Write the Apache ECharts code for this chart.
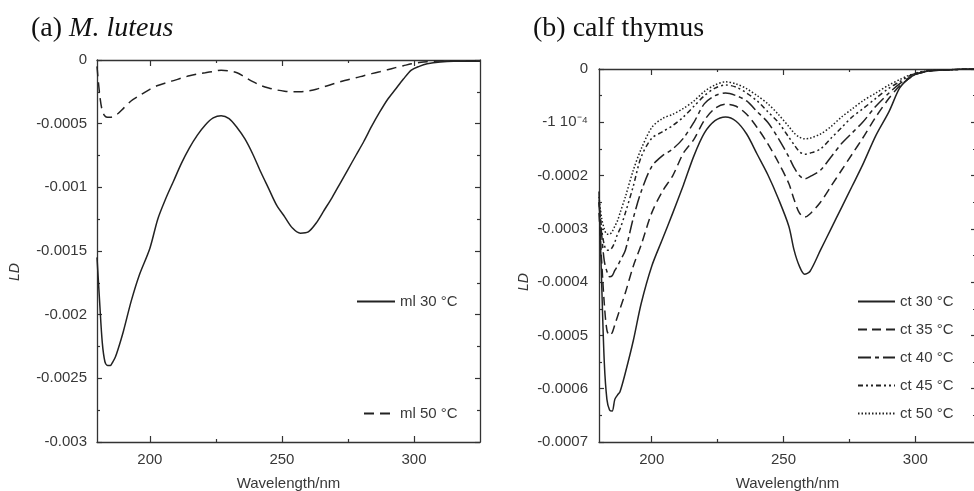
<!DOCTYPE html>
<html>
<head>
<meta charset="utf-8">
<script src="https://cdn.jsdelivr.net/npm/echarts@6/dist/echarts.min.js"></script>
<style>html,body{margin:0;padding:0;background:#fff}#c{width:974px;height:491px}</style>
</head>
<body>
<div id="c"></div>
<script>
// ---- data ----
const titleA = ['(a) ', 'M. luteus'];
const titleB = '(b) calf thymus';
const xName = 'Wavelength/nm';
const yName = 'LD';
const xLabelValues = [200, 250, 300];
const xMinorValues = [225, 275];
const yLabelsA = ['0', '-0.0005', '-0.001', '-0.0015', '-0.002', '-0.0025', '-0.003'];
const yLabelsB = ['0', '-1 10\u207B\u2074', '-0.0002', '-0.0003', '-0.0004', '-0.0005', '-0.0006', '-0.0007'];
const namesA = ['ml 30 \u00B0C', 'ml 50 \u00B0C'];
const namesB = ['ct 30 \u00B0C', 'ct 35 \u00B0C', 'ct 40 \u00B0C', 'ct 45 \u00B0C', 'ct 50 \u00B0C'];

const wlA = [180,181,182,183,184,185,186,187,188,190,193,196,200,203,206,209,212,215,218,221,224,227,230,233,236,239,242,245,248,251,254,257,260,263,266,269,272,275,278,281,284,287,290,293,296,299,302,305,310,315,320,325];
const ml30 = [-0.00155,-0.00190,-0.00222,-0.00237,-0.00240,-0.00240,-0.00237,-0.00233,-0.00227,-0.00213,-0.00189,-0.00169,-0.00148,-0.00125,-0.00109,-0.00095,-0.00081,-0.00069,-0.00059,-0.00051,-0.000455,-0.000437,-0.00046,-0.00053,-0.00062,-0.00074,-0.00088,-0.00101,-0.00114,-0.00123,-0.00132,-0.00136,-0.00135,-0.00128,-0.00118,-0.00108,-0.00097,-0.00086,-0.00075,-0.00064,-0.00052,-0.00041,-0.00031,-0.00023,-0.00015,-0.00008,-0.00005,-0.00003,-0.000015,-0.00001,-0.00001,-0.00001];
const ml50 = [-0.00005,-0.00027,-0.00040,-0.00044,-0.00045,-0.00045,-0.000445,-0.00043,-0.00042,-0.00038,-0.00032,-0.00028,-0.00023,-0.00020,-0.00018,-0.000162,-0.000142,-0.000124,-0.00011,-0.0001,-0.00009,-0.00008,-0.000085,-0.0001,-0.000135,-0.00017,-0.0002,-0.00022,-0.000235,-0.000245,-0.00025,-0.00025,-0.000242,-0.00023,-0.00021,-0.00019,-0.000172,-0.000155,-0.00014,-0.000123,-0.000107,-0.000092,-0.000076,-0.00006,-0.000045,-0.00003,-0.00002,-0.000013,-0.000008,-0.000005,-0.000005,-0.000005];

const wlB = [180,181,182,183,184,185,186,187,188,190,193,196,200,204,208,212,216,220,224,228,232,236,240,244,248,252,254,256,258,260,264,268,272,276,280,285,290,294,297,300,305,310,315,320,325];
const ct30 = [-0.00023,-0.0004,-0.00055,-0.00062,-0.00064,-0.000642,-0.00062,-0.000612,-0.000605,-0.00057,-0.00051,-0.00044,-0.00037,-0.00032,-0.00027,-0.000218,-0.000163,-0.00012,-0.000097,-0.00009,-0.000098,-0.000122,-0.00016,-0.000198,-0.000243,-0.000295,-0.00034,-0.00037,-0.000385,-0.00038,-0.00034,-0.0003,-0.00026,-0.00022,-0.00018,-0.000125,-0.00008,-0.000036,-0.00002,-0.00001,-0.000004,-0.000002,-0.000001,0,0];
const ct35 = [-0.00027,-0.00036,-0.00044,-0.00049,-0.0005,-0.000495,-0.00048,-0.000465,-0.00045,-0.00042,-0.00037,-0.00033,-0.00027,-0.00023,-0.0002,-0.000158,-0.000132,-0.000096,-0.000074,-0.000066,-0.00007,-0.000085,-0.00011,-0.00014,-0.000175,-0.000215,-0.000245,-0.00027,-0.000278,-0.000272,-0.00025,-0.00022,-0.00019,-0.00016,-0.00013,-0.00009,-0.000055,-0.000032,-0.00002,-0.00001,-0.000004,-0.000002,-0.000001,0,0];
const ct40 = [-0.00025,-0.00031,-0.00036,-0.00038,-0.00039,-0.000388,-0.000378,-0.00037,-0.00036,-0.00034,-0.00028,-0.00023,-0.000183,-0.000163,-0.00015,-0.00013,-0.0001,-0.000065,-0.00005,-0.000045,-0.00005,-0.00006,-0.00008,-0.0001,-0.00013,-0.000165,-0.000185,-0.0002,-0.000206,-0.000202,-0.00019,-0.000165,-0.00014,-0.00012,-0.0001,-0.00007,-0.000045,-0.000028,-0.000018,-0.00001,-0.000004,-0.000002,-0.000001,0,0];
const ct45 = [-0.00025,-0.0003,-0.00033,-0.00034,-0.00034,-0.000335,-0.000325,-0.00031,-0.0003,-0.00027,-0.00022,-0.000165,-0.00013,-0.000118,-0.000106,-0.00009,-0.00007,-0.00005,-0.000036,-0.00003,-0.000034,-0.000045,-0.00006,-0.00008,-0.0001,-0.000128,-0.000142,-0.000155,-0.00016,-0.000158,-0.00015,-0.00013,-0.00011,-0.00009,-0.000075,-0.000055,-0.000036,-0.000024,-0.000015,-0.000008,-0.000003,-0.000002,-0.000001,0,0];
const ct50 = [-0.00024,-0.00028,-0.0003,-0.00031,-0.00031,-0.000305,-0.000295,-0.000285,-0.00027,-0.00024,-0.00019,-0.00015,-0.00011,-0.000093,-0.000085,-0.000074,-0.00006,-0.000042,-0.00003,-0.000024,-0.000028,-0.000037,-0.00005,-0.000065,-0.000085,-0.000108,-0.00012,-0.000128,-0.000131,-0.00013,-0.000122,-0.000108,-0.00009,-0.000075,-0.00006,-0.000045,-0.00003,-0.00002,-0.000013,-0.000008,-0.000003,-0.000002,-0.000001,0,0];

// ---- chart ----
const FONT = 'Liberation Sans, Arial, sans-serif';
const SERIF = 'Liberation Serif, Times New Roman, serif';
const FS = 15;
const INK = '#222';
const AX = '#333';
const TXT = '#383838';
const pair = (xs, ys) => xs.map((x, i) => [x, ys[i]]);

function xAxes(gridIndex, max) {
  const base = {type: 'value', gridIndex, min: 180, max, splitLine: {show: false}};
  return [
    Object.assign({}, base, {position: 'bottom',
      axisLine: {show: true, onZero: false, lineStyle: {color: AX, width: 1.3}},
      axisTick: {show: true, inside: true, length: 3, customValues: xMinorValues, lineStyle: {color: AX, width: 1.2}},
      axisLabel: {show: true, customValues: xLabelValues, margin: 10, color: TXT, fontSize: FS, fontFamily: FONT},
      name: xName, nameLocation: 'middle', nameGap: 34,
      nameTextStyle: {color: TXT, fontSize: FS, fontFamily: FONT}}),
    Object.assign({}, base, {position: 'bottom',
      axisLine: {show: false, onZero: false},
      axisTick: {show: true, inside: true, length: 6, customValues: xLabelValues, lineStyle: {color: AX, width: 1.2}},
      axisLabel: {show: false}}),
    Object.assign({}, base, {position: 'top',
      axisLine: {show: true, onZero: false, lineStyle: {color: AX, width: 1.3}},
      axisTick: {show: true, inside: true, length: 3, customValues: xMinorValues, lineStyle: {color: AX, width: 1.2}},
      axisLabel: {show: false}}),
    Object.assign({}, base, {position: 'top',
      axisLine: {show: false, onZero: false},
      axisTick: {show: true, inside: true, length: 6, customValues: xLabelValues, lineStyle: {color: AX, width: 1.2}},
      axisLabel: {show: false}})
  ];
}

function yAxes(gridIndex, min, step, labels, margin) {
  const base = {type: 'value', gridIndex, min, max: 0, interval: step, splitLine: {show: false},
    minorTick: {show: true, splitNumber: 2, length: 3, lineStyle: {color: AX, width: 1.2}},
    axisTick: {show: true, inside: true, length: 5, lineStyle: {color: AX, width: 1.2}}};
  return [
    Object.assign({}, base, {position: 'left',
      axisLine: {show: true, onZero: false, lineStyle: {color: AX, width: 1.3}},
      axisLabel: {show: true, margin, color: TXT, fontSize: FS, fontFamily: FONT,
        formatter: v => labels[Math.round(-v / step)]}}),
    Object.assign({}, base, {position: 'right',
      axisLine: {show: true, onZero: false, lineStyle: {color: AX, width: 1.3}},
      axisLabel: {show: false}})
  ];
}

function line(name, xs, ys, xi, yi, dash) {
  return {type: 'line', name, data: pair(xs, ys), xAxisIndex: xi, yAxisIndex: yi,
    symbol: 'none', showSymbol: false, smooth: 0.3, animation: false,
    lineStyle: {color: INK, width: 1.5, type: dash}, itemStyle: {color: INK}};
}

const legendText = {color: TXT, fontSize: FS, fontFamily: FONT, lineHeight: 15};
const legendItem = {color: 'rgba(0,0,0,0)', borderWidth: 0, opacity: 0};
const chart = echarts.init(document.getElementById('c'));
chart.setOption({
  animation: false,
  backgroundColor: '#fff',
  title: [
    {text: '{n|' + titleA[0] + '}{i|' + titleA[1] + '}', left: 26, top: 10,
      textStyle: {fontWeight: 'normal', rich: {
        n: {fontFamily: SERIF, fontSize: 28, fontWeight: 'normal', color: '#111'},
        i: {fontFamily: SERIF, fontSize: 28, fontWeight: 'normal', fontStyle: 'italic', color: '#111'}}}},
    {text: titleB, left: 528, top: 10,
      textStyle: {fontFamily: SERIF, fontSize: 28, fontWeight: 'normal', color: '#111'}}
  ],
  grid: [
    {left: 97, top: 60, width: 383, height: 382, outerBoundsMode: 'none', containLabel: false},
    {left: 599, top: 69, width: 377, height: 373, outerBoundsMode: 'none', containLabel: false}
  ],
  xAxis: xAxes(0, 325).concat(xAxes(1, 323)),
  yAxis: yAxes(0, -0.003, 0.0005, yLabelsA, 10).concat(yAxes(1, -0.0007, 0.0001, yLabelsB, 11)),
  legend: [
    {data: [namesA[0]], left: 351, top: 289, itemWidth: 38, itemHeight: 15, itemStyle: legendItem, textStyle: legendText, selectedMode: false},
    {data: [namesA[1]], left: 358, top: 401, itemWidth: 31, itemHeight: 15, itemStyle: legendItem, textStyle: legendText, selectedMode: false},
    {data: namesB, orient: 'vertical', left: 852, top: 289, itemWidth: 37, itemHeight: 15, itemGap: 13,
      itemStyle: legendItem, textStyle: legendText, selectedMode: false}
  ],
  graphic: [
    {type: 'text', x: 15, y: 272, rotation: Math.PI / 2,
      style: {text: yName, font: 'italic 14px Liberation Sans', fill: TXT, align: 'center', verticalAlign: 'middle'}},
    {type: 'text', x: 524, y: 282, rotation: Math.PI / 2,
      style: {text: yName, font: 'italic 14px Liberation Sans', fill: TXT, align: 'center', verticalAlign: 'middle'}}
  ],
  series: [
    line(namesA[0], wlA, ml30, 0, 0, 'solid'),
    line(namesA[1], wlA, ml50, 0, 0, [10, 6]),
    line(namesB[0], wlB, ct30, 4, 2, 'solid'),
    line(namesB[1], wlB, ct35, 4, 2, [9, 5]),
    line(namesB[2], wlB, ct40, 4, 2, [13, 4, 4, 4]),
    line(namesB[3], wlB, ct45, 4, 2, [5, 3, 2, 3, 2, 3]),
    line(namesB[4], wlB, ct50, 4, 2, [1.5, 2])
  ]
});
</script>
</body>
</html>
